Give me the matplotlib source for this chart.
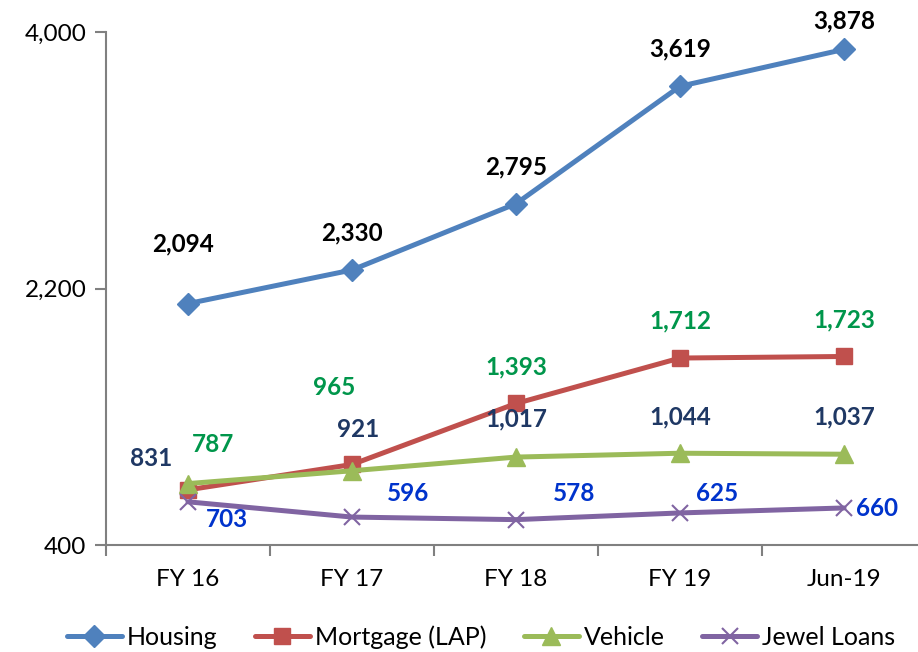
import matplotlib
matplotlib.use("Agg")
import matplotlib.pyplot as plt
from matplotlib.ticker import FuncFormatter

categories = ["FY 16", "FY 17", "FY 18", "FY 19", "Jun-19"]
housing = [2094, 2330, 2795, 3619, 3878]
mortgage = [787, 965, 1393, 1712, 1723]
vehicle = [831, 921, 1017, 1044, 1037]
jewel = [703, 596, 578, 625, 660]
yticks = [400, 2200, 4000]

plt.rcParams['font.family'] = ['Lato', 'DejaVu Sans']

fig = plt.figure(figsize=(9.18, 6.52), dpi=100)
ax = fig.add_axes([106/918, 1-545/652, 820/918, 513/652])

x = list(range(len(categories)))
series = [
    ("Housing", housing, "#4F81BD", "D", 11),
    ("Mortgage (LAP)", mortgage, "#C0504D", "s", 12),
    ("Vehicle", vehicle, "#9BBB59", "^", 13),
    ("Jewel Loans", jewel, "#8064A2", "x", 12),
]
for name, vals, col, mk, ms in series:
    kw = dict(markeredgewidth=1.5) if mk == "x" else dict(markeredgecolor=col)
    ax.plot(x, vals, color=col, lw=3.6, marker=mk, markersize=ms, label=name,
            solid_capstyle='round', **kw)

def lab(vals, offs, color):
    for i, (v, (dx, dy)) in enumerate(zip(vals, offs)):
        ax.annotate(f"{v:,}", (i, v), xytext=(dx, dy), textcoords='offset pixels',
                    ha='center', va='center', fontsize=17.5, fontweight='bold', color=color)

lab(housing, [(-5, 60), (0, 37), (0, 37), (0, 37), (0, 28)], "#000000")
lab(mortgage, [(25, 45), (-18, 77), (0, 37), (0, 37), (0, 37)], "#00964B")
lab(vehicle, [(-37, 25), (6, 41), (0, 38), (0, 36), (0, 37)], "#1F3864")
lab(jewel, [(39, -18), (56, 24), (58, 26), (37, 19), (33, -1)], "#0033CC")

ax.set_xlim(-0.5, 4.5)
ax.set_ylim(400, 4000)
ax.set_yticks(yticks)
ax.yaxis.set_major_formatter(FuncFormatter(lambda v, p: f"{int(v):,}"))
ax.set_xticks(x)
ax.set_xticklabels(categories)
ax.set_xticks([i + 0.5 for i in range(-1, 5)], minor=True)
ax.tick_params(axis='x', which='major', length=0, pad=17, labelsize=17.5)
ax.tick_params(axis='x', which='minor', length=8, color='#808080', width=1.5)
ax.tick_params(axis='y', length=8, color='#808080', width=1.5, labelsize=17.5, pad=6)
for s in ['top', 'right']:
    ax.spines[s].set_visible(False)
for s in ['left', 'bottom']:
    ax.spines[s].set_color('#808080')
    ax.spines[s].set_linewidth(1.5)

leg = fig.legend(loc='center', bbox_to_anchor=(481/918, 1-637/652), ncol=4, frameon=False,
                 fontsize=18, handlelength=2.2, columnspacing=1.5, handletextpad=0.2)

fig.savefig("out.png", dpi=100)
